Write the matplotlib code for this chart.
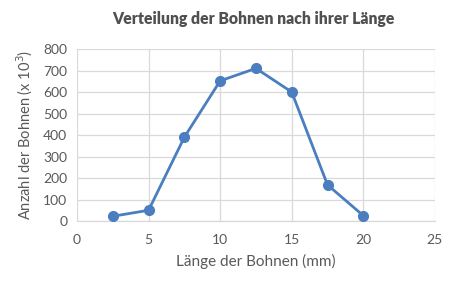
import matplotlib
matplotlib.use('Agg')
import matplotlib.pyplot as plt

# Werte
laenge = [2.5, 5, 7.5, 10, 12.5, 15, 17.5, 20]
anzahl = [22, 50, 390, 652, 710, 600, 168, 25]
xticks = [0, 5, 10, 15, 20, 25]
yticks = [0, 100, 200, 300, 400, 500, 600, 700, 800]

plt.rcParams['font.family'] = ['Lato', 'DejaVu Sans']
txt = '#595959'
blue = '#4A7EBF'

fig = plt.figure(figsize=(4.53, 2.81), dpi=100)
ax = fig.add_axes([0.170, 0.2135, 0.790, 0.612])

ax.plot(laenge, anzahl, color=blue, lw=2, marker='o', ms=7, zorder=3, clip_on=False)

ax.set_xlim(0, 25)
ax.set_ylim(0, 800)
ax.set_xticks(xticks)
ax.set_yticks(yticks)
ax.grid(True, color='#D9D9D9', lw=0.9)
ax.set_axisbelow(True)
for s in ['top', 'right', 'left']:
    ax.spines[s].set_visible(False)
ax.spines['bottom'].set_color('#D9D9D9')
ax.spines['bottom'].set_linewidth(0.9)
ax.tick_params(axis='x', length=0, colors=txt, labelsize=10, pad=9)
ax.tick_params(axis='y', length=0, colors=txt, labelsize=10, pad=7)

ax.set_xlabel('Länge der Bohnen (mm)', color=txt, fontsize=11, labelpad=6)
ax.set_ylabel('Anzahl der Bohnen (x 10$^3$)', color=txt, fontsize=10.5, labelpad=6)
fig.suptitle('Verteilung der Bohnen nach ihrer Länge', color='#505050', fontsize=11.3,
             fontweight='heavy', x=0.56, y=0.962)

fig.savefig('out.png', dpi=100)
